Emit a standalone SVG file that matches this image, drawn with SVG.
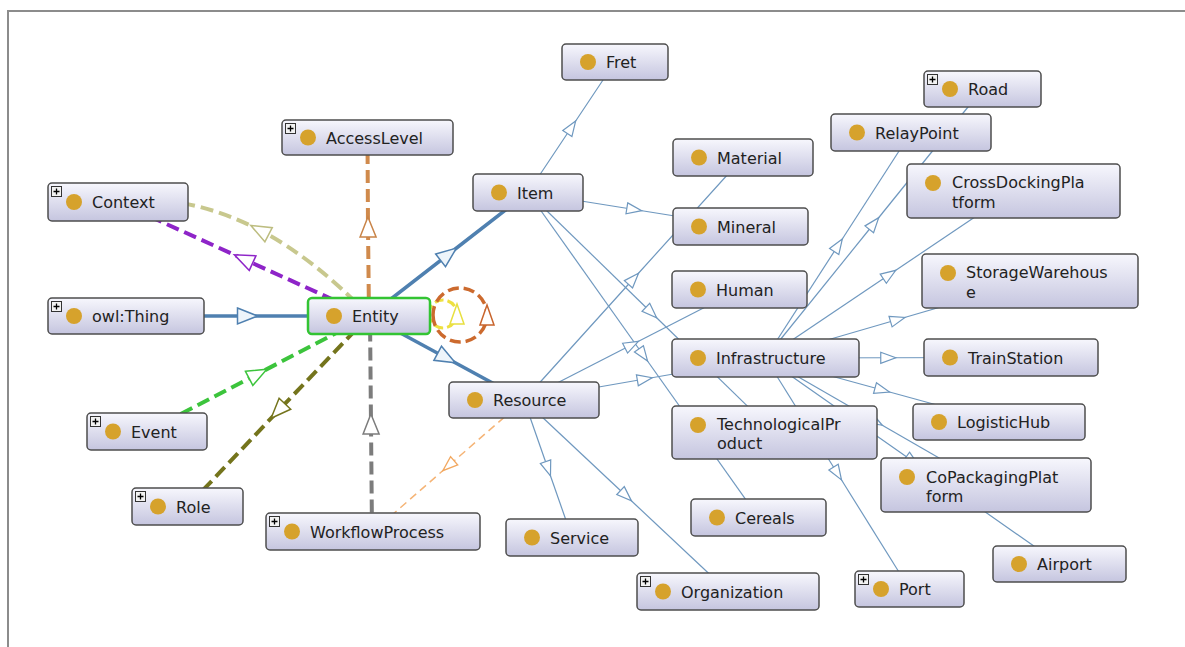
<svg xmlns="http://www.w3.org/2000/svg" width="1185" height="647" viewBox="0 0 1185 647">
<defs>
<linearGradient id="ng" x1="0" y1="0" x2="0" y2="1"><stop offset="0" stop-color="#f7f7fd"/><stop offset="1" stop-color="#c5c5df"/></linearGradient>
<g id="plus"><rect x="0.5" y="0.5" width="10" height="10" fill="#f2f2f2" stroke="#333" stroke-width="1"/><path d="M2.5,5.5H8.5M5.5,2.5V8.5" stroke="#000" stroke-width="1.3"/></g>
<marker id="mt" viewBox="-2 -2 19 15" markerWidth="19" markerHeight="15" refX="7.5" refY="5.5" orient="auto" markerUnits="userSpaceOnUse"><path d="M0,0L15,5.5L0,11Z" fill="#fff" stroke="#6f98bf" stroke-width="1.2"/></marker>
<marker id="mb" viewBox="-2 -2 24 20" markerWidth="24" markerHeight="20" refX="10" refY="8" orient="auto" markerUnits="userSpaceOnUse"><path d="M0,0L20,8L0,16Z" fill="#eef5fb" stroke="#4f80b0" stroke-width="1.5"/></marker>
<marker id="mpu" viewBox="-2 -2 24 20" markerWidth="24" markerHeight="20" refX="10" refY="8" orient="auto" markerUnits="userSpaceOnUse"><path d="M0,0L20,8L0,16Z" fill="#fff" stroke="#8e24c8" stroke-width="1.5"/></marker>
<marker id="mkh" viewBox="-2 -2 24 20" markerWidth="24" markerHeight="20" refX="10" refY="8" orient="auto" markerUnits="userSpaceOnUse"><path d="M0,0L20,8L0,16Z" fill="#fff" stroke="#bdbd80" stroke-width="1.5"/></marker>
<marker id="mor" viewBox="-2 -2 24 20" markerWidth="24" markerHeight="20" refX="10" refY="8" orient="auto" markerUnits="userSpaceOnUse"><path d="M0,0L20,8L0,16Z" fill="#fff" stroke="#c98448" stroke-width="1.5"/></marker>
<marker id="mgr" viewBox="-2 -2 24 20" markerWidth="24" markerHeight="20" refX="10" refY="8" orient="auto" markerUnits="userSpaceOnUse"><path d="M0,0L20,8L0,16Z" fill="#fff" stroke="#3cc43c" stroke-width="1.5"/></marker>
<marker id="mol" viewBox="-2 -2 24 20" markerWidth="24" markerHeight="20" refX="10" refY="8" orient="auto" markerUnits="userSpaceOnUse"><path d="M0,0L20,8L0,16Z" fill="#fff" stroke="#74741c" stroke-width="1.5"/></marker>
<marker id="mgy" viewBox="-2 -2 24 20" markerWidth="24" markerHeight="20" refX="10" refY="8" orient="auto" markerUnits="userSpaceOnUse"><path d="M0,0L20,8L0,16Z" fill="#fff" stroke="#7c7c7c" stroke-width="1.5"/></marker>
<marker id="mlo" viewBox="-2 -2 19 15" markerWidth="19" markerHeight="15" refX="7.5" refY="5.5" orient="auto" markerUnits="userSpaceOnUse"><path d="M0,0L15,5.5L0,11Z" fill="#fff" stroke="#f2a860" stroke-width="1.3"/></marker>
<marker id="mye" viewBox="-2 -2 24 18" markerWidth="24" markerHeight="18" refX="10" refY="7" orient="auto" markerUnits="userSpaceOnUse"><path d="M0,0L20,7L0,14Z" fill="#fff" stroke="#e8e040" stroke-width="1.5"/></marker>
<marker id="mol2" viewBox="-2 -2 24 18" markerWidth="24" markerHeight="18" refX="10" refY="7" orient="auto" markerUnits="userSpaceOnUse"><path d="M0,0L20,7L0,14Z" fill="#fff" stroke="#c8642c" stroke-width="1.5"/></marker>
</defs>
<style>
.box{fill:url(#ng);stroke:#4d4d4d;stroke-width:1.5}
.sel{fill:url(#ng);stroke:#33c433;stroke-width:2.5}
.dot{fill:#d6a22c}
.lbl{font-family:"DejaVu Sans",sans-serif;font-size:16px;fill:#222}
.thin{fill:none;stroke:#6f98bf;stroke-width:1.2;marker-mid:url(#mt)}
.thick{fill:none;stroke:#4f80b0;stroke-width:3.5;marker-mid:url(#mb)}
.dash{fill:none;stroke-width:4;stroke-dasharray:13 6}
</style>
<path d="M8,647V11H1185" fill="none" stroke="#8c8c8c" stroke-width="2"/>
<g id="connectors">
<path class="thin" d="M528,192.5L571.5,127.25L615,62"/>
<path class="thin" d="M528,192.5L634.25,209.5L740.5,226.5"/>
<path class="thin" d="M528,192.5L651.25,312.5L774.5,432.5"/>
<path class="thin" d="M528,192.5L643.25,355L758.5,517.5"/>
<path class="thin" d="M524,400L633.5,278.75L743,157.5"/>
<path class="thin" d="M524,400L631.75,344.75L739.5,289.5"/>
<path class="thin" d="M524,400L644.75,379L765.5,358"/>
<path class="thin" d="M524,400L548,468.75L572,537.5"/>
<path class="thin" d="M524,400L626,495.75L728,591.5"/>
<path class="thin" d="M765.5,358L874,223.5L982.5,89"/>
<path class="thin" d="M765.5,358L838.25,245.25L911,132.5"/>
<path class="thin" d="M765.5,358L889.5,274.5L1013.5,191"/>
<path class="thin" d="M765.5,358L897.75,319.5L1030,281"/>
<path class="thin" d="M765.5,358L888.25,357.75L1011,357.5"/>
<path class="thin" d="M765.5,358L882.25,390L999,422"/>
<path class="thin" d="M765.5,358L875.75,421.5L986,485"/>
<path class="thin" d="M765.5,358L912.5,461L1059.5,564"/>
<path class="thin" d="M765.5,358L837.5,473.5L909.5,589"/>
<path d="M524,400L448.5,465.75L373,531.5" fill="none" stroke="#f5b476" stroke-width="1.5" stroke-dasharray="8 5" marker-mid="url(#mlo)"/>
<path class="thick" d="M126,316L247.5,316L369,316"/>
<path class="thick" d="M369,316L448.5,254.25L528,192.5"/>
<path class="thick" d="M369,316L446.5,358L524,400"/>
<path class="dash" d="M369,316Q315.45,259.3 259.7,230.1Q191.5,194.5 120,200" stroke="#c8c88e" marker-mid="url(#mkh)"/>
<path class="dash" d="M369,316L243.5,259L118,202" stroke="#8e24c8" marker-mid="url(#mpu)"/>
<path class="dash" d="M369,316L368,227L367.5,137.5" stroke="#d08a4c" marker-mid="url(#mor)"/>
<path class="dash" d="M147,431.5L258,373.75L369,316" stroke="#3cc43c" marker-mid="url(#mgr)"/>
<path class="dash" d="M369,316L278,411L187.5,506.5" stroke="#74741c" marker-mid="url(#mol)"/>
<path class="dash" d="M372,531.5L371,424L370,316" stroke="#7c7c7c" marker-mid="url(#mgy)"/>
<path d="M429,314A14,14 0 0 0 457,314A14,14 0 0 0 429,314" fill="none" stroke="#eee040" stroke-width="3" stroke-dasharray="9 4" marker-mid="url(#mye)"/>
<path d="M433,315A27,27 0 0 0 487,315A27,27 0 0 0 433,315" fill="none" stroke="#cc6a2e" stroke-width="3.5" stroke-dasharray="11 5" marker-mid="url(#mol2)"/>
</g>
<g id="n-fret"><rect class="box" x="562" y="44" width="106" height="36" rx="4"/><circle class="dot" cx="588" cy="62" r="8"/><text class="lbl" x="606" y="68">Fret</text></g>
<g id="n-accesslevel"><rect class="box" x="282" y="120" width="171" height="35" rx="4"/><use href="#plus" x="285" y="123"/><circle class="dot" cx="308" cy="137.5" r="8"/><text class="lbl" x="326" y="143.5">AccessLevel</text></g>
<g id="n-context"><rect class="box" x="48" y="183" width="140" height="38" rx="4"/><use href="#plus" x="51" y="186"/><circle class="dot" cx="74" cy="202" r="8"/><text class="lbl" x="92" y="208">Context</text></g>
<g id="n-owlthing"><rect class="box" x="48" y="298" width="156" height="36" rx="4"/><use href="#plus" x="51" y="301"/><circle class="dot" cx="74" cy="316" r="8"/><text class="lbl" x="92" y="322">owl:Thing</text></g>
<g id="n-entity"><rect class="sel" x="308" y="298" width="122" height="36" rx="4"/><circle class="dot" cx="334" cy="316" r="8"/><text class="lbl" x="352" y="322">Entity</text></g>
<g id="n-event"><rect class="box" x="87" y="413" width="120" height="37" rx="4"/><use href="#plus" x="90" y="416"/><circle class="dot" cx="113" cy="431.5" r="8"/><text class="lbl" x="131" y="437.5">Event</text></g>
<g id="n-role"><rect class="box" x="132" y="488" width="111" height="37" rx="4"/><use href="#plus" x="135" y="491"/><circle class="dot" cx="158" cy="506.5" r="8"/><text class="lbl" x="176" y="512.5">Role</text></g>
<g id="n-workflowprocess"><rect class="box" x="266" y="513" width="214" height="37" rx="4"/><use href="#plus" x="269" y="516"/><circle class="dot" cx="292" cy="531.5" r="8"/><text class="lbl" x="310" y="537.5">WorkflowProcess</text></g>
<g id="n-item"><rect class="box" x="473" y="174" width="110" height="37" rx="4"/><circle class="dot" cx="499" cy="192.5" r="8"/><text class="lbl" x="517" y="198.5">Item</text></g>
<g id="n-material"><rect class="box" x="673" y="139" width="140" height="37" rx="4"/><circle class="dot" cx="699" cy="157.5" r="8"/><text class="lbl" x="717" y="163.5">Material</text></g>
<g id="n-mineral"><rect class="box" x="673" y="208" width="135" height="37" rx="4"/><circle class="dot" cx="699" cy="226.5" r="8"/><text class="lbl" x="717" y="232.5">Mineral</text></g>
<g id="n-human"><rect class="box" x="672" y="271" width="135" height="37" rx="4"/><circle class="dot" cx="698" cy="289.5" r="8"/><text class="lbl" x="716" y="295.5">Human</text></g>
<g id="n-infrastructure"><rect class="box" x="672" y="339" width="187" height="38" rx="4"/><circle class="dot" cx="698" cy="358" r="8"/><text class="lbl" x="716" y="364">Infrastructure</text></g>
<g id="n-resource"><rect class="box" x="449" y="382" width="150" height="36" rx="4"/><circle class="dot" cx="475" cy="400" r="8"/><text class="lbl" x="493" y="406">Resource</text></g>
<g id="n-technologicalproduct"><rect class="box" x="672" y="406" width="205" height="53" rx="4"/><circle class="dot" cx="698" cy="425" r="8"/><text class="lbl" x="717" y="430">TechnologicalPr<tspan x="717" y="449">oduct</tspan></text></g>
<g id="n-road"><rect class="box" x="924" y="71" width="117" height="36" rx="4"/><use href="#plus" x="927" y="74"/><circle class="dot" cx="950" cy="89" r="8"/><text class="lbl" x="968" y="95">Road</text></g>
<g id="n-relaypoint"><rect class="box" x="831" y="114" width="160" height="37" rx="4"/><circle class="dot" cx="857" cy="132.5" r="8"/><text class="lbl" x="875" y="138.5">RelayPoint</text></g>
<g id="n-crossdockingplatform"><rect class="box" x="907" y="164" width="213" height="54" rx="4"/><circle class="dot" cx="933" cy="183" r="8"/><text class="lbl" x="952" y="188">CrossDockingPla<tspan x="952" y="208">tform</tspan></text></g>
<g id="n-storagewarehouse"><rect class="box" x="922" y="254" width="216" height="54" rx="4"/><circle class="dot" cx="948" cy="273" r="8"/><text class="lbl" x="966" y="278">StorageWarehous<tspan x="966" y="298">e</tspan></text></g>
<g id="n-trainstation"><rect class="box" x="924" y="339" width="174" height="37" rx="4"/><circle class="dot" cx="950" cy="357.5" r="8"/><text class="lbl" x="968" y="363.5">TrainStation</text></g>
<g id="n-logistichub"><rect class="box" x="913" y="404" width="172" height="36" rx="4"/><circle class="dot" cx="939" cy="422" r="8"/><text class="lbl" x="957" y="428">LogisticHub</text></g>
<g id="n-copackagingplatform"><rect class="box" x="881" y="458" width="210" height="54" rx="4"/><circle class="dot" cx="907" cy="477" r="8"/><text class="lbl" x="926" y="483">CoPackagingPlat<tspan x="926" y="502">form</tspan></text></g>
<g id="n-airport"><rect class="box" x="993" y="546" width="133" height="36" rx="4"/><circle class="dot" cx="1019" cy="564" r="8"/><text class="lbl" x="1037" y="570">Airport</text></g>
<g id="n-port"><rect class="box" x="855" y="571" width="109" height="36" rx="4"/><use href="#plus" x="858" y="574"/><circle class="dot" cx="881" cy="589" r="8"/><text class="lbl" x="899" y="595">Port</text></g>
<g id="n-cereals"><rect class="box" x="691" y="499" width="135" height="37" rx="4"/><circle class="dot" cx="717" cy="517.5" r="8"/><text class="lbl" x="735" y="523.5">Cereals</text></g>
<g id="n-service"><rect class="box" x="506" y="519" width="132" height="37" rx="4"/><circle class="dot" cx="532" cy="537.5" r="8"/><text class="lbl" x="550" y="543.5">Service</text></g>
<g id="n-organization"><rect class="box" x="637" y="573" width="182" height="37" rx="4"/><use href="#plus" x="640" y="576"/><circle class="dot" cx="663" cy="591.5" r="8"/><text class="lbl" x="681" y="597.5">Organization</text></g>
</svg>
